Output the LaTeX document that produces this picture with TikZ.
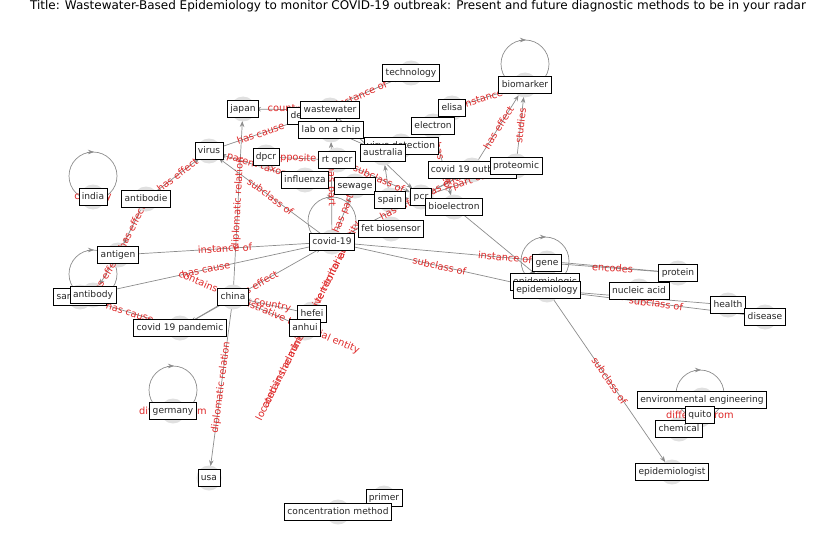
\documentclass[tikz,border=0pt]{standalone}
\usepackage{fontspec}
\setmainfont{DejaVu Sans}
\usetikzlibrary{arrows.meta}
\pgfdeclarelayer{edgel}\pgfdeclarelayer{circl}\pgfdeclarelayer{labl}
\pgfsetlayers{edgel,circl,labl,main}
\definecolor{edgegray}{gray}{0.55}
\definecolor{circgray}{gray}{0.88}
\definecolor{labred}{RGB}{222,40,40}
\tikzset{
 box/.style={draw=black,fill=white,line width=0.7pt,inner xsep=3pt,inner ysep=0pt,text height=7pt,text depth=2.1pt,minimum height=17pt,font=\fontsize{9.1}{11}\selectfont,text=black!85},
 edge/.style={draw=edgegray,line width=0.7pt,-{Stealth[length=6pt,width=4.5pt]},shorten >=12pt},
 plain/.style={draw=edgegray,line width=0.7pt},
 elab/.style={midway,sloped,text=labred,font=\fontsize{9.8}{11}\selectfont,inner sep=0pt},
 llab/.style={text=labred,font=\fontsize{9.8}{11}\selectfont,inner sep=0pt},
}
\newcommand\gnode[4]{\node[box] (#1) at (#2,#3) {#4};%
 \begin{pgfonlayer}{circl}\fill[circgray] (#1.center) circle[radius=12.5pt];\end{pgfonlayer}}
\newcommand\gedge[4][]{%
 \begin{pgfonlayer}{edgel}\draw[edge,#1] (#2.center) -- (#3.center);\end{pgfonlayer}%
 \begin{pgfonlayer}{labl}\path (#2.center) -- node[elab]{#4} (#3.center);\end{pgfonlayer}}
\newcommand\gloop[2]{%
 \begin{pgfonlayer}{edgel}\draw[plain] ([yshift=21pt]#1.center) circle[radius=24pt];
 \draw[plain,-{Stealth[length=6pt,width=4.5pt]}] ([shift={(-6pt,45pt)}]#1.center) -- ([shift={(1pt,45pt)}]#1.center);\end{pgfonlayer}%
 \begin{pgfonlayer}{labl}\node[llab] at (#1.center) {#2};\end{pgfonlayer}}
\begin{document}
\begin{tikzpicture}[x=1pt,y=-1pt]
\useasboundingbox (0,0) rectangle (837,559);
\node[anchor=base,font=\fontsize{12}{14}\selectfont] (title) at (418,10) {Title: Wastewater-Based Epidemiology to monitor COVID-19 outbreak: Present and future diagnostic methods to be in your radar};
% nodes
\gnode{tech}{411}{73}{technology}
\gnode{biom}{525}{85}{biomarker}
\gnode{japan}{243}{109}{japan}
\gnode{detect}{312}{116}{detection}
\gnode{waste}{330}{110}{wastewater}
\gnode{elisa}{452}{108}{elisa}
\gnode{labchip}{331}{130}{lab on a chip}
\gnode{electron}{433}{126}{electron}
\gnode{virdet}{401}{146}{virus detection}
\gnode{rtqpcr}{337}{160}{rt qpcr}
\gnode{austr}{383}{153}{australia}
\gnode{virus}{209}{151}{virus}
\gnode{dpcr}{266}{157}{dpcr}
\gnode{outbreak}{472}{170}{covid 19 outbreak}
\gnode{proteomic}{516}{166}{proteomic}
\gnode{influenza}{305}{180}{influenza}
\gnode{sewage}{355}{186}{sewage}
\gnode{spain}{390}{200}{spain}
\gnode{pcr}{421}{197}{pcr}
\gnode{bioel}{454}{207}{bioelectron}
\gnode{india}{93}{197}{india}
\gnode{antibodie}{146}{199}{antibodie}
\gnode{fet}{391}{229}{fet biosensor}
\gnode{covid}{332}{242}{covid-19}
\gnode{antigen}{118}{255}{antigen}
\gnode{gene}{547}{263}{gene}
\gnode{epidlogic}{545}{282}{epidemiologic}
\gnode{epid}{547}{290}{epidemiology}
\gnode{protein}{678}{273}{protein}
\gnode{nucleic}{639}{291}{nucleic acid}
\gnode{health}{728}{305}{health}
\gnode{disease}{765}{317}{disease}
\gnode{sar}{80}{297}{sars-cov-2}
\gnode{antibody}{93}{295}{antibody}
\gnode{china}{233}{297}{china}
\gnode{hefei}{312}{314}{hefei}
\gnode{anhui}{305}{328}{anhui}
\gnode{pandemic}{180}{328}{covid 19 pandemic}
\gnode{germany}{173}{411}{germany}
\gnode{enveng}{702}{400}{environmental engineering}
\gnode{chemical}{679}{429}{chemical}
\gnode{quito}{700}{415}{quito}
\gnode{epidist}{672}{472}{epidemiologist}
\gnode{usa}{209}{478}{usa}
\gnode{primer}{384}{498}{primer}
\gnode{concm}{338}{512}{concentration method}
% edges
\gedge{detect}{tech}{instance of}
\gedge{waste}{japan}{country}
\gedge{virus}{detect}{has cause}
\gedge{antibodie}{virus}{has effect}
\gedge{antibodie}{antigen}{has effect}
\gedge{antigen}{antibody}{has effect}
\gedge{influenza}{virus}{parent taxon}
\gedge{dpcr}{rtqpcr}{opposite of}
\gedge{covid}{virus}{subclass of}
\gedge{china}{japan}{diplomatic relation}
\gedge{china}{usa}{diplomatic relation}
\gedge{antigen}{covid}{instance of}
\gedge{sar}{covid}{has cause}
\gedge{pandemic}{covid}{has effect}
\gedge{hefei}{china}{country}
\gedge{china}{anhui}{contains administrative territorial entity}
\gedge{hefei}{anhui}{located in the administrative territorial entity}
\gedge{anhui}{hefei}{contains administrative territorial entity}
\gedge{china}{pandemic}{}
\gedge{sar}{pandemic}{has cause}
\gedge{outbreak}{biom}{has effect}
\gedge{proteomic}{biom}{studies}
\gedge{elisa}{biom}{instance of}
\gedge{covid}{protein}{instance of}
\gedge{gene}{protein}{encodes}
\gedge{covid}{epid}{subclass of}
\gedge{epid}{health}{part of}
\gedge{epid}{disease}{subclass of}
\gedge{bioel}{epidlogic}{}
\gedge{epid}{epidist}{subclass of}
\gedge{rtqpcr}{pcr}{subclass of}
\gedge{covid}{outbreak}{has effect}
\gedge{pcr}{outbreak}{has effect}
\gedge{pcr}{proteomic}{part of}
\gedge{electron}{bioel}{has effect}
\gedge{covid}{sewage}{has part}
\gedge{covid}{labchip}{has part}
\gedge{spain}{austr}{}
\gedge{waste}{pcr}{}
\gedge{labchip}{austr}{}
\gedge{pcr}{bioel}{}
\gedge{spain}{pcr}{}
% self loops
\gloop{india}{country}
\gloop{antibody}{}
\gloop{covid}{}
\gloop{biom}{}
\gloop{epidlogic}{}
\gloop{germany}{different from}
\gloop{quito}{different from}
\end{tikzpicture}
\end{document}
